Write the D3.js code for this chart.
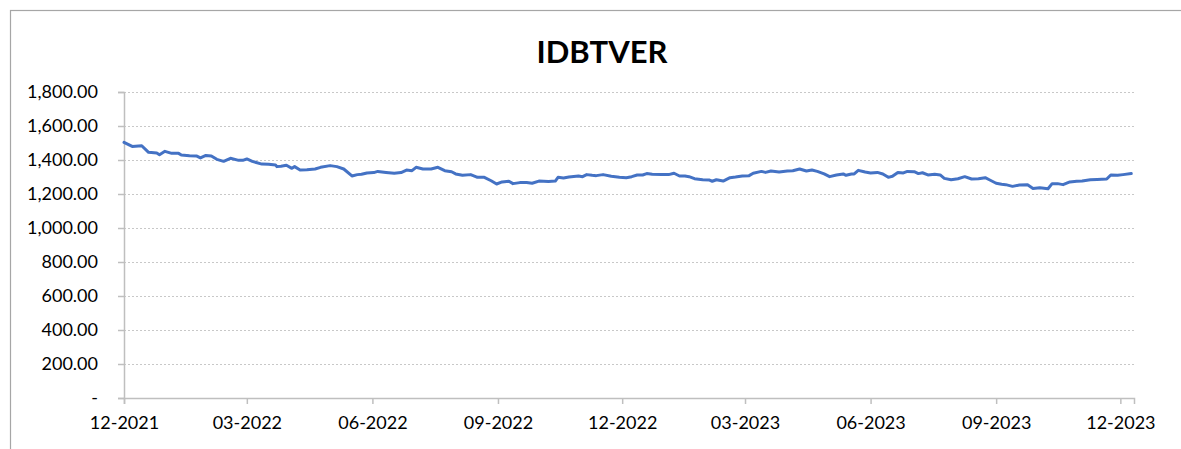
<!DOCTYPE html>
<html>
<head>
<meta charset="utf-8">
<script src="https://cdn.jsdelivr.net/npm/d3@7"></script>
<style>
  body { margin: 0; background: #fff; }
  svg { display: block; font-family: Lato, "Open Sans", sans-serif; }
  .axis path, .axis line { stroke: #bfbfbf; stroke-width: 1.5; }
  .axis text { fill: #000; font-size: 18px; font-family: Lato, "Open Sans", sans-serif; }
  .grid line { stroke: #c8c8c8; stroke-dasharray: 2,2; }
</style>
</head>
<body>
<div id="chart"></div>
<script>
// Werte
var title = "IDBTVER";

var dates = [
  "2021-12-01","2021-12-07","2021-12-14","2021-12-19","2021-12-25","2021-12-27","2021-12-31",
  "2022-01-05","2022-01-10","2022-01-12","2022-01-18","2022-01-23","2022-01-26","2022-01-30",
  "2022-02-03","2022-02-07","2022-02-12","2022-02-17","2022-02-23","2022-02-26",
  "2022-03-01","2022-03-05","2022-03-12","2022-03-17","2022-03-22","2022-03-23","2022-03-26","2022-03-30",
  "2022-04-03","2022-04-05","2022-04-09","2022-04-14","2022-04-20","2022-04-24",
  "2022-05-01","2022-05-06","2022-05-11","2022-05-17","2022-05-21","2022-05-24","2022-05-28",
  "2022-06-02","2022-06-05","2022-06-11","2022-06-17","2022-06-22","2022-06-26","2022-06-30",
  "2022-07-03","2022-07-08","2022-07-14","2022-07-19","2022-07-24","2022-07-29",
  "2022-08-01","2022-08-06","2022-08-12","2022-08-17","2022-08-22","2022-08-27","2022-08-31",
  "2022-09-04","2022-09-09","2022-09-12","2022-09-17","2022-09-22","2022-09-26",
  "2022-10-01","2022-10-08","2022-10-13","2022-10-15","2022-10-19","2022-10-23","2022-10-30",
  "2022-11-02","2022-11-05","2022-11-09","2022-11-12","2022-11-17","2022-11-23","2022-11-29",
  "2022-12-04","2022-12-08","2022-12-12","2022-12-16","2022-12-19","2022-12-23","2022-12-30",
  "2023-01-04","2023-01-08","2023-01-12","2023-01-16","2023-01-19","2023-01-23","2023-01-29",
  "2023-02-03","2023-02-05","2023-02-08","2023-02-13","2023-02-18","2023-02-22","2023-02-27",
  "2023-03-04","2023-03-07","2023-03-13","2023-03-16","2023-03-20","2023-03-26",
  "2023-04-01","2023-04-05","2023-04-10","2023-04-15","2023-04-19","2023-04-23","2023-04-28",
  "2023-05-02","2023-05-07","2023-05-12","2023-05-14","2023-05-18","2023-05-20","2023-05-23","2023-05-28",
  "2023-06-01","2023-06-06","2023-06-10","2023-06-14","2023-06-17","2023-06-21","2023-06-25","2023-06-28",
  "2023-07-03","2023-07-06","2023-07-09","2023-07-13","2023-07-18","2023-07-22","2023-07-25","2023-07-30",
  "2023-08-04","2023-08-09","2023-08-14","2023-08-19","2023-08-24","2023-08-27",
  "2023-09-01","2023-09-05","2023-09-08","2023-09-13","2023-09-18","2023-09-24","2023-09-28",
  "2023-10-03","2023-10-09","2023-10-12","2023-10-16","2023-10-20","2023-10-25","2023-10-30",
  "2023-11-03","2023-11-09","2023-11-14","2023-11-21","2023-11-24","2023-11-29",
  "2023-12-03","2023-12-09"
];

var values = [
  1504,1480,1484,1445,1441,1431,1451,
  1439,1439,1429,1425,1424,1412,1427,
  1424,1404,1392,1410,1398,1398,
  1406,1392,1376,1375,1371,1361,1363,1369,
  1351,1361,1341,1343,1347,1357,
  1367,1361,1347,1306,1314,1316,1324,
  1326,1333,1327,1322,1326,1341,1337,
  1357,1347,1347,1357,1337,1331,
  1318,1310,1314,1298,1298,1278,1259,
  1271,1275,1261,1267,1267,1263,
  1276,1273,1276,1298,1294,1300,1306,
  1302,1314,1310,1308,1314,1304,1298,
  1296,1302,1312,1312,1320,1316,1314,
  1314,1322,1306,1306,1302,1290,1284,
  1282,1275,1284,1276,1296,1300,1306,
  1308,1322,1333,1327,1335,1329,
  1335,1337,1347,1335,1341,1333,1318,
  1302,1312,1318,1310,1318,1318,1339,1329,
  1324,1327,1318,1298,1304,1327,1324,1333,
  1331,1320,1325,1312,1316,1312,1292,1284,
  1290,1302,1288,1290,1296,1284,
  1263,1257,1255,1245,1253,1255,1233,
  1237,1231,1261,1261,1255,1271,1275,
  1276,1284,1286,1288,1312,1310,
  1314,1320
];

var yTicks = [0, 200, 400, 600, 800, 1000, 1200, 1400, 1600, 1800];
var xTicks = ["2021-12-01","2022-03-01","2022-06-01","2022-09-01","2022-12-01",
              "2023-03-01","2023-06-01","2023-09-01","2023-12-01"];
var xStart = "2021-12-01";
var xEnd = "2023-12-11";

var W = 1181, H = 449;
var margin = { top: 92, right: 47, bottom: 51, left: 124 };
var width = W - margin.left - margin.right;
var height = H - margin.top - margin.bottom;

var parse = d3.timeParse("%Y-%m-%d");
var data = dates.map(function (d, i) {
  return { date: parse(d), value: values[i] };
});

var svg = d3.select("#chart").append("svg")
  .attr("width", W)
  .attr("height", H);

// Rahmen
svg.append("rect")
  .attr("x", 10.5).attr("y", 10.5)
  .attr("width", W + 20).attr("height", H + 20)
  .attr("fill", "none")
  .attr("stroke", "#a6a6a6")
  .attr("stroke-width", 1.2);

svg.append("text")
  .attr("x", 602)
  .attr("y", 63)
  .attr("text-anchor", "middle")
  .style("font-size", "31px")
  .style("font-weight", "bold")
  .text(title);

var g = svg.append("g")
  .attr("transform", "translate(" + margin.left + "," + margin.top + ")");

var x = d3.scaleTime()
  .domain([parse(xStart), parse(xEnd)])
  .range([0, width]);

var y = d3.scaleLinear()
  .domain([0, 1800])
  .range([height, 0]);

// Gitterlinien
g.append("g")
  .attr("class", "grid")
  .selectAll("line")
  .data(yTicks.filter(function (t) { return t > 0; }))
  .enter().append("line")
  .attr("x1", 0)
  .attr("x2", width)
  .attr("y1", function (d) { return Math.round(y(d)) + 0.5; })
  .attr("y2", function (d) { return Math.round(y(d)) + 0.5; });

var yAxis = d3.axisLeft(y)
  .tickValues(yTicks)
  .tickSize(6)
  .tickPadding(20)
  .tickFormat(function (d) { return d === 0 ? "-" : d3.format(",.2f")(d); });

var xAxis = d3.axisBottom(x)
  .tickValues(xTicks.map(parse))
  .tickSize(6)
  .tickPadding(12)
  .tickFormat(d3.timeFormat("%m-%Y"));

g.append("g")
  .attr("class", "y axis")
  .call(yAxis);

g.append("g")
  .attr("class", "x axis")
  .attr("transform", "translate(0," + height + ")")
  .call(xAxis);

var line = d3.line()
  .x(function (d) { return x(d.date); })
  .y(function (d) { return y(d.value); });

g.append("path")
  .datum(data)
  .attr("fill", "none")
  .attr("stroke", "#4472c4")
  .attr("stroke-width", 3)
  .attr("stroke-linejoin", "round")
  .attr("stroke-linecap", "round")
  .attr("d", line);
</script>
</body>
</html>
